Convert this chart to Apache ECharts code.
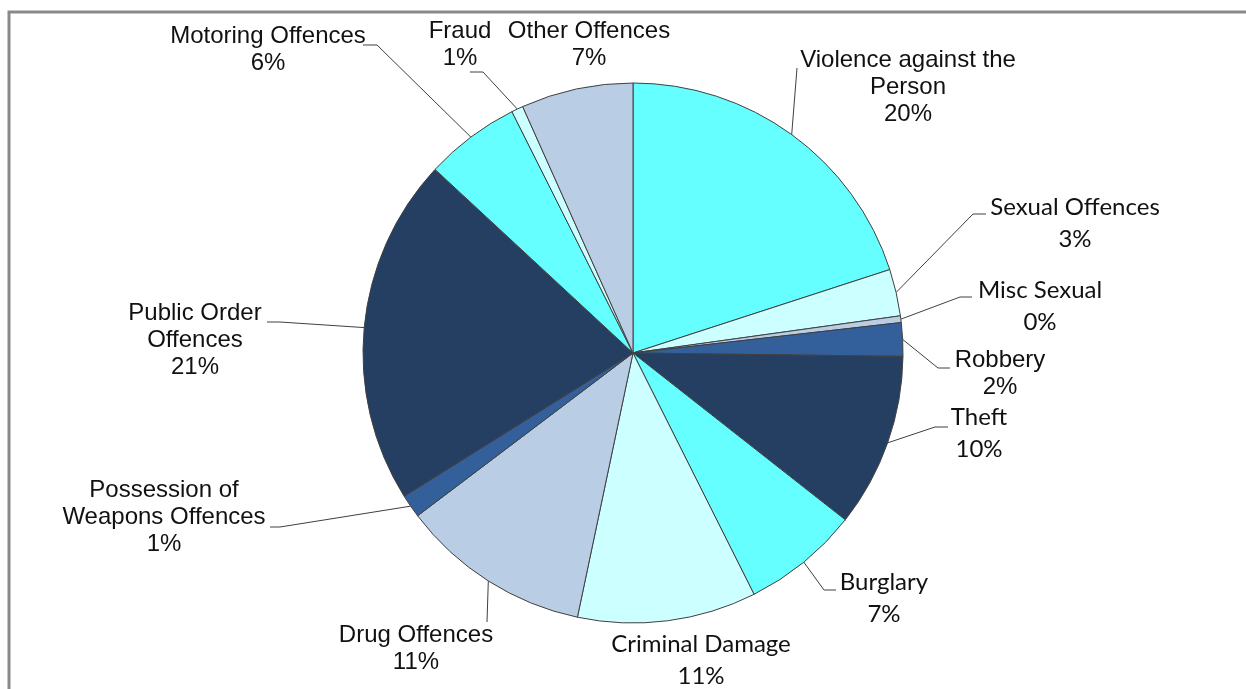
<!DOCTYPE html>
<html>
<head>
<meta charset="utf-8">
<script src="https://cdn.jsdelivr.net/npm/echarts@6/dist/echarts.min.js"></script>
<style>
html,body{margin:0;padding:0;background:#fff;}
#chart{width:1246px;height:689px;}
</style>
</head>
<body>
<div id="chart"></div>
<script>
// ---- data ----
const categories = [
  'Violence against the\nPerson', 'Sexual Offences', 'Misc Sexual', 'Robbery', 'Theft',
  'Burglary', 'Criminal Damage', 'Drug Offences', 'Possession of\nWeapons Offences',
  'Public Order\nOffences', 'Motoring Offences', 'Fraud', 'Other Offences'
];
const values = [20.0, 2.8, 0.4, 2.0, 10.4, 7.0, 10.7, 11.4, 1.4, 20.8, 5.7, 0.7, 6.7];

// ---- styling / layout (not data) ----
const palette = ['#66FFFF', '#CCFFFF', '#B9CDE5', '#33609A', '#253F62'];
const calibriLike = [false, true, true, false, true, true, true, false, false, false, false, false, false];
// label centre [x,y] and leader line points after the sector anchor
const labelPos = [
  [908, 87], [1075, 223], [1040, 306], [1000, 374], [979, 433], [884, 598], [701, 660],
  [416, 649], [164, 517], [195, 340], [268, 50], [460, 45], [589, 45]
];
const linePts = [
  [[797, 68]],
  [[973, 214], [986, 214]],
  [[960, 297], [972, 297]],
  [[938, 368], [950, 368]],
  [[935, 427], [948, 427]],
  [[824, 590], [836, 590]],
  null,
  [[487, 622]],
  [[280, 527], [270, 527]],
  [[280, 322], [267, 322]],
  [[377, 45], [363, 45]],
  [[483, 72], [470, 72]],
  null
];

const seriesData = categories.map((name, i) => ({
  name: name,
  value: values[i],
  itemStyle: { color: palette[i % palette.length] },
  label: calibriLike[i]
    ? { fontFamily: 'Lato', fontSize: 24, lineHeight: 32 }
    : { fontFamily: 'Liberation Sans', fontSize: 24, lineHeight: 27 },
  labelLine: { show: linePts[i] != null }
}));

const chart = echarts.init(document.getElementById('chart'), null, { renderer: 'canvas' });
chart.setOption({
  animation: false,
  backgroundColor: '#ffffff',
  graphic: [{
    type: 'polyline',
    shape: { points: [[9, 700], [9, 12], [1260, 12]] },
    style: { stroke: '#8a8a8a', lineWidth: 3, fill: null },
    silent: true
  }],
  series: [{
    type: 'pie',
    center: [633, 353],
    radius: 270,
    startAngle: 90,
    clockwise: true,
    avoidLabelOverlap: false,
    percentPrecision: 2,
    data: seriesData,
    itemStyle: { borderColor: '#404040', borderWidth: 1 },
    label: {
      show: true,
      position: 'outside',
      color: '#111111',
      formatter: p => p.name + '\n' + Math.round(p.percent) + '%'
    },
    labelLine: { show: true, lineStyle: { color: '#404040', width: 1 } },
    labelLayout: function (params) {
      const i = params.dataIndex;
      const pos = labelPos[i];
      const out = { x: pos[0], y: pos[1], align: 'center', verticalAlign: 'middle' };
      if (linePts[i] && params.labelLinePoints) {
        out.labelLinePoints = [params.labelLinePoints[0]].concat(linePts[i]);
      }
      return out;
    },
    emphasis: { disabled: true }
  }]
});
</script>
</body>
</html>
